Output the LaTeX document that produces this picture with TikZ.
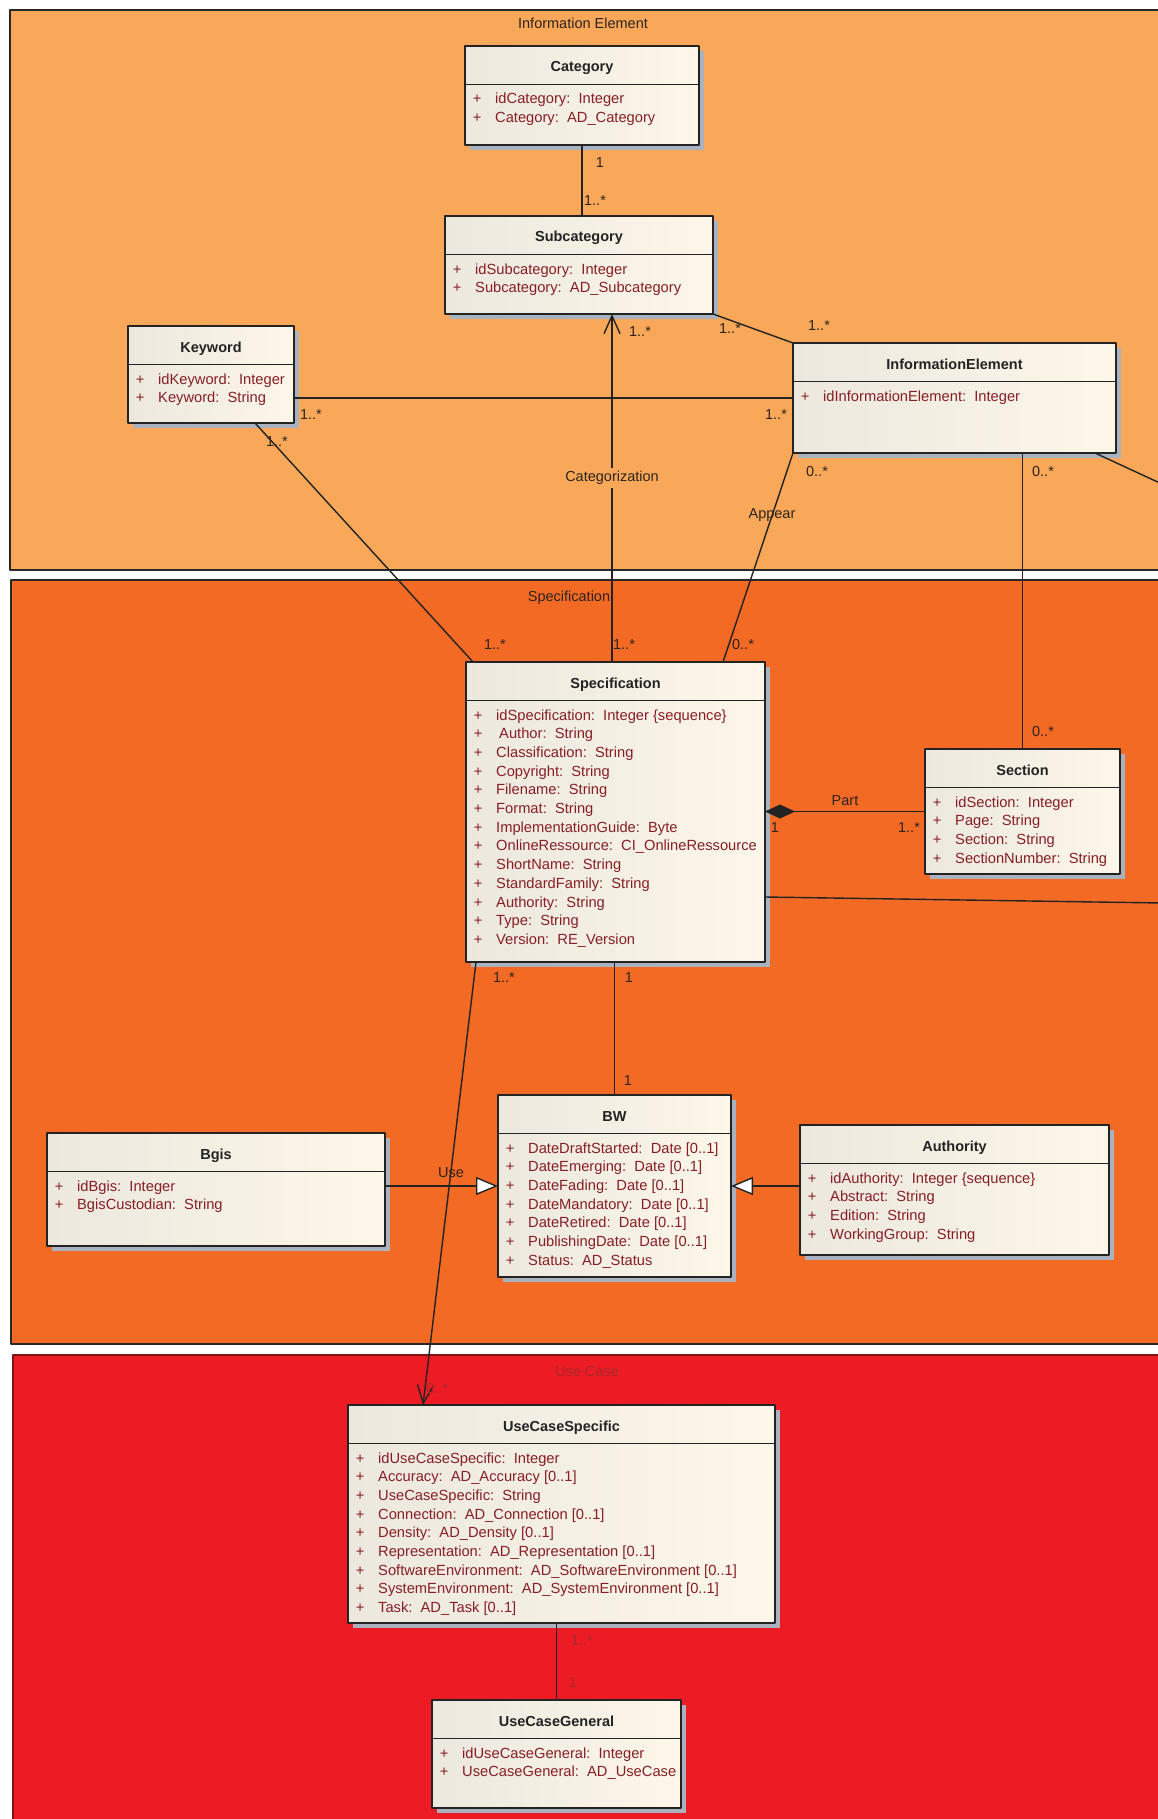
\documentclass[tikz,border=0pt]{standalone}
\usepackage{fontspec}
\setmainfont{Liberation Sans}
\usetikzlibrary{arrows.meta,calc}
\definecolor{InfoFill}{RGB}{248,168,88}
\definecolor{SpecFill}{RGB}{242,106,36}
\definecolor{CaseFill}{RGB}{237,28,36}
\definecolor{FrameInk}{RGB}{40,40,40}
\definecolor{CaseInk}{RGB}{120,20,20}
\definecolor{ClassLeft}{RGB}{236,232,222}
\definecolor{ClassRight}{RGB}{253,247,233}
\definecolor{ClassInk}{RGB}{35,35,35}
\definecolor{AttrInk}{RGB}{135,30,38}
\definecolor{LabelInk}{RGB}{45,35,30}
\definecolor{FaintInk}{RGB}{170,40,45}
\definecolor{ShadowTone}{RGB}{170,178,192}
\tikzset{
    uml/diagram/.style={
        x=1pt, y=-1pt,
        line cap=round,
        line join=round
    },
    uml/frame/.style={draw=FrameInk, line width=1.3pt},
    uml/frametitle/.style={font=\fontsize{14.5}{17}\selectfont, text=LabelInk, inner sep=0pt},
    uml/shadow/.style={fill=ShadowTone},
    uml/class/.style={
        rectangle, draw=ClassInk, line width=1.6pt,
        left color=ClassLeft, right color=ClassRight,
        anchor=north west, inner sep=0pt, outer sep=0pt
    },
    uml/border/.style={draw=ClassInk, line width=1.6pt},
    uml/title/.style={font=\bfseries\fontsize{14.5}{17}\selectfont, text=ClassInk, anchor=base, inner sep=0pt},
    uml/attrs/.style={font=\fontsize{14.7}{18.7}\selectfont, text=AttrInk, anchor=base west, inner sep=0pt},
    uml/assoc/.style={draw=ClassInk, line width=1.4pt},
    uml/navigable/.style={uml/assoc, -{Straight Barb[length=18pt, width=16pt]}},
    uml/generalize/.style={uml/assoc, -{Triangle[length=22pt, width=18pt, fill=white]}},
    uml/compose/.style={uml/assoc, -{Diamond[length=30pt, width=14pt]}},
    uml/mult/.style={font=\fontsize{14.5}{16}\selectfont, text=LabelInk, inner sep=1pt},
    uml/faint/.style={uml/mult, text=FaintInk}
}
\newcommand{\attr}[2]{\makebox[24pt]{+}\hspace{6pt}#1:\ \ #2}
% name, top left corner, width, height, title, attribute rows
\newcommand{\umlclass}[6]{%
    \fill[uml/shadow] ($#2+(5,5)$) rectangle ++(#3,#4);
    \node[uml/class, minimum width=#3pt, minimum height=#4pt] (#1) at #2 {};
    \draw[uml/border] ($(#1.north west)+(0,38.5)$) -- ($(#1.north east)+(0,38.5)$);
    \node[uml/title] (#1-title) at ($(#1.north)+(0,26)$) {#5};
    \node[uml/attrs] (#1-attrs) at ($(#1.north west)+(0,58)$)
        {\begin{tabular}[t]{@{}l@{}}#6\end{tabular}};%
}

\begin{document}
\begin{tikzpicture}[uml/diagram]
    \useasboundingbox (0,0) rectangle (1158,1819);
    \clip (0,0) rectangle (1158,1819);
    \fill[white] (0,0) rectangle (1158,1819);

    % packages
    \filldraw[uml/frame, fill=InfoFill] (10,10) rectangle (1175,570);
    \node[uml/frametitle] (infoTitle) at (583,23) {Information Element};
    \filldraw[uml/frame, fill=SpecFill] (11,580) rectangle (1175,1344);
    \node[uml/frametitle] (specTitle) at (569,598) {Specification};
    \filldraw[uml/frame, fill=CaseFill, draw=CaseInk] (13,1355) rectangle (1175,1830);
    \node[uml/frametitle, text=FaintInk] (caseTitle) at (587,1371) {Use Case};

    % classes
    \umlclass{Category}{(465,46)}{234}{99}{Category}{%
        \attr{idCategory}{Integer}\\
        \attr{Category}{AD\_Category}}
    \umlclass{Subcategory}{(445,216)}{268}{98}{Subcategory}{%
        \attr{idSubcategory}{Integer}\\
        \attr{Subcategory}{AD\_Subcategory}}
    \umlclass{Keyword}{(128,326)}{166}{97}{Keyword}{%
        \attr{idKeyword}{Integer}\\
        \attr{Keyword}{String}}
    \umlclass{InformationElement}{(793,343)}{323}{110}{InformationElement}{%
        \attr{idInformationElement}{Integer}}
    \umlclass{Specification}{(466,662)}{299}{300}{Specification}{%
        \attr{idSpecification}{Integer \{sequence\}}\\
        \attr{\hspace{3pt}Author}{String}\\
        \attr{Classification}{String}\\
        \attr{Copyright}{String}\\
        \attr{Filename}{String}\\
        \attr{Format}{String}\\
        \attr{ImplementationGuide}{Byte}\\
        \attr{OnlineRessource}{CI\_OnlineRessource}\\
        \attr{ShortName}{String}\\
        \attr{StandardFamily}{String}\\
        \attr{Authority}{String}\\
        \attr{Type}{String}\\
        \attr{Version}{RE\_Version}}
    \umlclass{Section}{(925,749)}{195}{125}{Section}{%
        \attr{idSection}{Integer}\\
        \attr{Page}{String}\\
        \attr{Section}{String}\\
        \attr{SectionNumber}{String}}
    \umlclass{BW}{(498,1095)}{233}{182}{BW}{%
        \attr{DateDraftStarted}{Date [0..1]}\\
        \attr{DateEmerging}{Date [0..1]}\\
        \attr{DateFading}{Date [0..1]}\\
        \attr{DateMandatory}{Date [0..1]}\\
        \attr{DateRetired}{Date [0..1]}\\
        \attr{PublishingDate}{Date [0..1]}\\
        \attr{Status}{AD\_Status}}
    \umlclass{Bgis}{(47,1133)}{338}{113}{Bgis}{%
        \attr{idBgis}{Integer}\\
        \attr{BgisCustodian}{String}}
    \umlclass{Authority}{(800,1125)}{309}{130}{Authority}{%
        \attr{idAuthority}{Integer \{sequence\}}\\
        \attr{Abstract}{String}\\
        \attr{Edition}{String}\\
        \attr{WorkingGroup}{String}}
    \umlclass{UseCaseSpecific}{(348,1405)}{427}{218}{UseCaseSpecific}{%
        \attr{idUseCaseSpecific}{Integer}\\
        \attr{Accuracy}{AD\_Accuracy [0..1]}\\
        \attr{UseCaseSpecific}{String}\\
        \attr{Connection}{AD\_Connection [0..1]}\\
        \attr{Density}{AD\_Density [0..1]}\\
        \attr{Representation}{AD\_Representation [0..1]}\\
        \attr{SoftwareEnvironment}{AD\_SoftwareEnvironment [0..1]}\\
        \attr{SystemEnvironment}{AD\_SystemEnvironment [0..1]}\\
        \attr{Task}{AD\_Task [0..1]}}
    \umlclass{UseCaseGeneral}{(432,1700)}{249}{108}{UseCaseGeneral}{%
        \attr{idUseCaseGeneral}{Integer}\\
        \attr{UseCaseGeneral}{AD\_UseCase}}

    % connectors
    \draw[uml/assoc] (Category.south) -- (Category.south |- Subcategory.north);
    \coordinate (catFoot) at ([xshift=-3.5pt]Specification.north);
    \draw[uml/navigable] (catFoot) -- (catFoot |- Subcategory.south);
    \draw[uml/assoc] (Subcategory.south east) -- (InformationElement.north west);
    \draw[uml/assoc] (InformationElement.west -| Keyword.east) -- (InformationElement.west);
    \draw[uml/assoc] ([xshift=44pt]Keyword.south) -- ([xshift=-142.5pt]Specification.north);
    \draw[uml/assoc] (InformationElement.south west) -- ([xshift=107.5pt]Specification.north);
    \draw[uml/assoc] (InformationElement.south -| Section.north) -- (Section.north);
    \coordinate (ieOut) at (1162,484);
    \draw[uml/assoc] ([xshift=-21pt]InformationElement.south east) -- (ieOut);
    \draw[uml/compose] (Section.west) -- (Section.west -| Specification.east);
    \coordinate (specOut) at (1162,903);
    \draw[uml/assoc] ([yshift=-85pt]Specification.east) -- (specOut);
    \draw[uml/assoc] (Specification.south -| BW.north) -- (BW.north);
    \draw[uml/navigable] ([xshift=10pt]Specification.south west) -- ([xshift=75pt]UseCaseSpecific.north west);
    \draw[uml/generalize] (BW.west -| Bgis.east) -- (BW.west);
    \draw[uml/generalize] (BW.east -| Authority.west) -- (BW.east);
    \draw[uml/assoc] (UseCaseSpecific.south -| UseCaseGeneral.north) -- (UseCaseGeneral.north);

    % multiplicities and roles
    \node[uml/mult] (mCatTop) at (600,163) {1};
    \node[uml/mult] (mSubTop) at (595,201) {1..*};
    \node[uml/mult] (mSubCat) at (640,332) {1..*};
    \node[uml/mult] (mSubIe) at (730,329) {1..*};
    \node[uml/mult] (mIeSub) at (819,326) {1..*};
    \node[uml/mult] (mKwIe) at (311,415) {1..*};
    \node[uml/mult] (mIeKw) at (776,415) {1..*};
    \node[uml/mult] (mKwSpec) at (277,442) {1..*};
    \node[uml/mult] (mIeAppear) at (817,472) {0..*};
    \node[uml/mult] (mIeSec) at (1043,472) {0..*};
    \node[uml/mult, fill=InfoFill, inner sep=3pt] (lCategorization) at (612,478) {Categorization};
    \node[uml/mult] (lAppear) at (772,515) {Appear};
    \node[uml/mult] (mSpecKw) at (495,645) {1..*};
    \node[uml/mult] (mSpecCat) at (624,645) {1..*};
    \node[uml/mult] (mSpecIe) at (743,645) {0..*};
    \node[uml/mult] (mSecIe) at (1043,732) {0..*};
    \node[uml/mult] (lPart) at (845,801) {Part};
    \node[uml/mult] (mSpecPart) at (775,828) {1};
    \node[uml/mult] (mSecPart) at (909,828) {1..*};
    \node[uml/mult] (mSpecUse) at (504,978) {1..*};
    \node[uml/mult] (mSpecBw) at (629,978) {1};
    \node[uml/mult] (mBwSpec) at (628,1080) {1};
    \node[uml/mult] (lUse) at (451,1173) {Use};
    \node[uml/faint] (mUcsUse) at (437,1388) {0..*};
    \node[uml/faint] (mUcsUcg) at (582,1640) {1..*};
    \node[uml/faint] (mUcgUcs) at (573,1682) {1};
\end{tikzpicture}
\end{document}
